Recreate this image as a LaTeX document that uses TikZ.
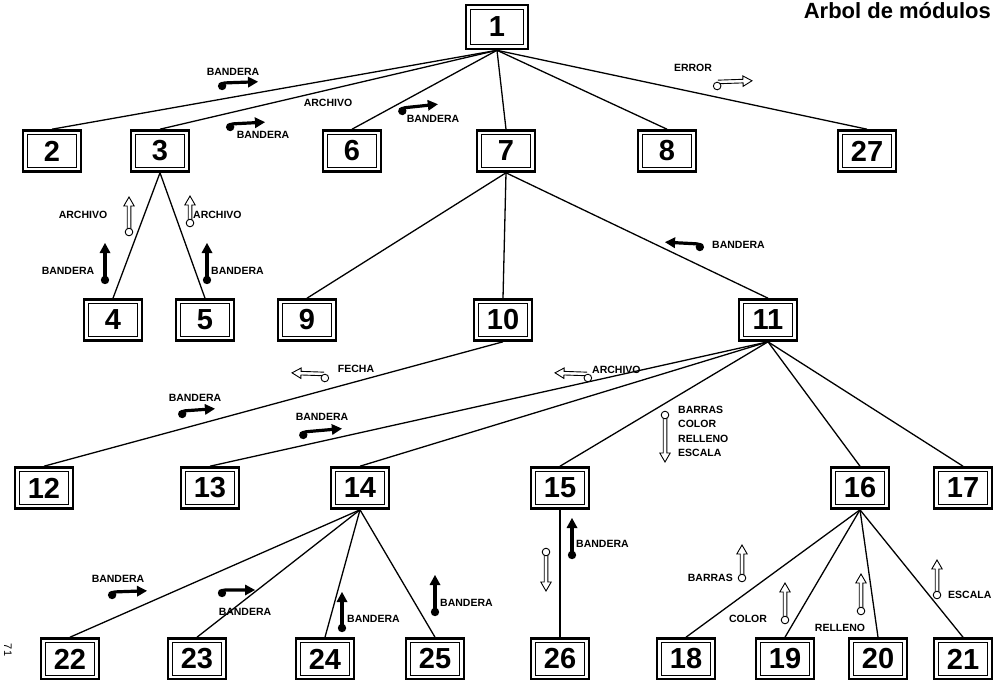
\documentclass[tikz,border=0pt]{standalone}
\usepackage{fontspec}
\setmainfont{Liberation Sans}
\usetikzlibrary{calc}

% filled control flag: shaft starts at (#1,#2), points at angle #3, length #4;
% the dot hangs #5 off the shaft (hook)
\newcommand\flagcpl[5]{%
  \begin{scope}[shift={(#1,#2)}, rotate=#3]
    \fill (0,#5) circle[radius=4.2];
    \draw[line width=3.2pt] (0,#5) .. controls (1,0) .. (6,0) -- (#4-8,0);
    \fill (#4-10,-5.5) -- (#4,0) -- (#4-10,5.5) -- cycle;
  \end{scope}}
% open data couple: shaft starts at (#1,#2), points at angle #3, length #4;
% the ring hangs #5 off the shaft
\newcommand\datacpl[5]{%
  \begin{scope}[shift={(#1,#2)}, rotate=#3]
    \draw[line width=0.9pt, fill=white]
      (1,-1.8) -- (#4-9,-1.8) -- (#4-9,-5.2) -- (#4,0) -- (#4-9,5.2)
      -- (#4-9,1.8) -- (1,1.8);
    \draw[line width=0.9pt, fill=white] (0,#5) circle[radius=3.8];
  \end{scope}}

\tikzset{
  modbox/.style={draw, line width=2.6pt, minimum width=58pt, minimum height=41pt,
    inner sep=0pt, font=\fontsize{29}{29}\selectfont\bfseries,
    path picture={\draw[line width=1pt]
      ([shift={(4.2pt,-4.2pt)}]path picture bounding box.north west) rectangle
      ([shift={(-4.2pt,4.2pt)}]path picture bounding box.south east);}},
  lbl/.style={inner sep=0pt, font=\fontsize{10.5}{11}\selectfont\bfseries},
  link/.style={line width=1.3pt},
}

\begin{document}
\begin{tikzpicture}[x=1pt, y=-1pt]
\useasboundingbox (0,0) rectangle (996,680);

% title and page number
\node[anchor=base east, inner sep=0pt, font=\fontsize{22}{22}\selectfont\bfseries] (title) at (991,18) {Arbol de módulos};
\node[rotate=-90, inner sep=0pt, font=\fontsize{11}{11}\selectfont] (pg) at (8,650) {71};

% modules
\node[modbox, minimum width=62pt, minimum height=44pt] (n1) at (497,27) {1};

\node[modbox] (n2)  at (52,151)  {2};
\node[modbox] (n3)  at (160,151) {3};
\node[modbox] (n6)  at (352,151) {6};
\node[modbox] (n7)  at (506,151) {7};
\node[modbox] (n8)  at (667,151) {8};
\node[modbox] (n27) at (867,151) {27};

\node[modbox] (n4)  at (113,320) {4};
\node[modbox] (n5)  at (205,320) {5};
\node[modbox] (n9)  at (307,320) {9};
\node[modbox] (n10) at (503,320) {10};
\node[modbox] (n11) at (768,320) {11};

\node[modbox] (n12) at (44,488)  {12};
\node[modbox] (n13) at (210,488) {13};
\node[modbox] (n14) at (360,488) {14};
\node[modbox] (n15) at (560,488) {15};
\node[modbox] (n16) at (860,488) {16};
\node[modbox] (n17) at (963,488) {17};

\node[modbox] (n22) at (70,659)  {22};
\node[modbox] (n23) at (197,659) {23};
\node[modbox] (n24) at (325,659) {24};
\node[modbox] (n25) at (435,659) {25};
\node[modbox] (n26) at (560,659) {26};
\node[modbox] (n18) at (686,659) {18};
\node[modbox] (n19) at (785,659) {19};
\node[modbox] (n20) at (878,659) {20};
\node[modbox] (n21) at (963,659) {21};

% calls
\foreach \c in {n2,n3,n6,n7,n8,n27} \draw[link] (n1.south) -- (\c.north);
\foreach \c in {n4,n5} \draw[link] (n3.south) -- (\c.north);
\foreach \c in {n9,n10,n11} \draw[link] (n7.south) -- (\c.north);
\draw[link] (n10.south) -- (n12.north);
\foreach \c in {n13,n14,n15,n16,n17} \draw[link] (n11.south) -- (\c.north);
\foreach \c in {n22,n23,n24,n25} \draw[link] (n14.south) -- (\c.north);
\draw[link] (n15.south) -- (n26.north);
\foreach \c in {n18,n19,n20,n21} \draw[link] (n16.south) -- (\c.north);

% couples below module 1
\flagcpl{222}{83}{2}{36}{3}
\node[lbl] (l1) at (233,72) {BANDERA};
\node[lbl] (l2) at (328,103) {ARCHIVO};
\flagcpl{230}{124}{3}{35}{3}
\node[lbl] (l3) at (263,135) {BANDERA};
\flagcpl{402}{108}{6}{36}{3}
\node[lbl] (l4) at (433,119) {BANDERA};
\datacpl{717}{82}{2}{35}{4}
\node[lbl] (l5) at (693,68) {ERROR};

% couples below module 3
\datacpl{129}{232}{90}{35}{0}
\node[lbl] (l6) at (83,215) {ARCHIVO};
\flagcpl{105}{280}{90}{37}{0}
\node[lbl] (l7) at (68,271) {BANDERA};
\datacpl{190}{223}{90}{27}{0}
\node[lbl, anchor=west] (l8) at (193,215) {ARCHIVO};
\flagcpl{207}{280}{90}{37}{0}
\node[lbl, anchor=west] (l9) at (211,271) {BANDERA};

% couple below module 7
\flagcpl{700}{244}{177}{35}{-3}
\node[lbl, anchor=west] (l10) at (712,245) {BANDERA};

% couples below modules 10 and 11
\datacpl{325}{374}{178}{33}{-4}
\node[lbl] (l11) at (356,369) {FECHA};
\datacpl{588}{374}{178}{33}{-4}
\node[lbl, anchor=west] (l12) at (592,370) {ARCHIVO};
\flagcpl{182}{411}{4}{33}{3}
\node[lbl] (l13) at (195,398) {BANDERA};
\flagcpl{303}{432}{5}{39}{3}
\node[lbl] (l14) at (322,417) {BANDERA};
\datacpl{665}{415}{-90}{47}{0}
\node[lbl, anchor=west] (l15) at (678,410) {BARRAS};
\node[lbl, anchor=west] (l16) at (678,424) {COLOR};
\node[lbl, anchor=west] (l17) at (678,439) {RELLENO};
\node[lbl, anchor=west] (l18) at (678,453) {ESCALA};

% couples below module 14
\flagcpl{112}{592}{2}{35}{3}
\node[lbl] (l19) at (118,579) {BANDERA};
\flagcpl{222}{590}{0}{33}{3}
\node[lbl] (l20) at (245,612) {BANDERA};
\flagcpl{342}{628}{90}{36}{0}
\node[lbl, anchor=west] (l21) at (347,619) {BANDERA};
\flagcpl{435}{612}{90}{37}{0}
\node[lbl, anchor=west] (l22) at (440,603) {BANDERA};

% couples below module 15
\datacpl{546}{552}{-90}{39}{0}
\flagcpl{572}{555}{90}{37}{0}
\node[lbl, anchor=west] (l23) at (576,544) {BANDERA};

% couples below module 16
\datacpl{742}{578}{90}{33}{0}
\node[lbl, anchor=east] (l24) at (733,578) {BARRAS};
\datacpl{785}{620}{90}{37}{0}
\node[lbl] (l25) at (748,619) {COLOR};
\datacpl{861}{611}{90}{37}{0}
\node[lbl] (l26) at (840,628) {RELLENO};
\datacpl{937}{595}{90}{35}{0}
\node[lbl, anchor=west] (l27) at (948,595) {ESCALA};
\end{tikzpicture}
\end{document}
